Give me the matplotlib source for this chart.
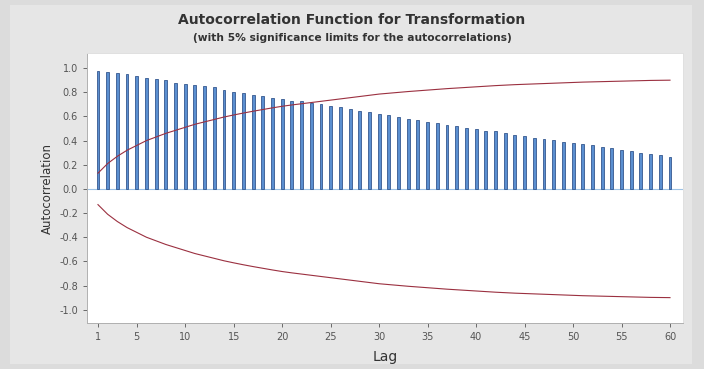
import numpy as np
import matplotlib.pyplot as plt
from matplotlib.patches import Rectangle

lags = np.arange(1, 61)
acf = [0.98, 0.97, 0.96, 0.95, 0.935, 0.92, 0.91, 0.90, 0.88, 0.87,
       0.86, 0.85, 0.84, 0.82, 0.80, 0.795, 0.78, 0.77, 0.755, 0.748,
       0.73, 0.725, 0.71, 0.70, 0.687, 0.678, 0.664, 0.645, 0.636, 0.62,
       0.613, 0.594, 0.58, 0.571, 0.552, 0.544, 0.53, 0.518, 0.504, 0.493,
       0.482, 0.476, 0.462, 0.45, 0.435, 0.42, 0.41, 0.403, 0.39, 0.38,
       0.37, 0.36, 0.347, 0.342, 0.325, 0.314, 0.297, 0.286, 0.277, 0.263]
# 5% significance limit (upper; lower is the mirror)
limit = [0.13, 0.21, 0.27, 0.32, 0.36, 0.40, 0.43, 0.46, 0.485, 0.51,
         0.535, 0.555, 0.575, 0.595, 0.612, 0.628, 0.643, 0.657, 0.671, 0.684,
         0.695, 0.705, 0.715, 0.725, 0.735, 0.745, 0.755, 0.765, 0.775, 0.785,
         0.792, 0.799, 0.806, 0.812, 0.818, 0.824, 0.83, 0.835, 0.84, 0.845,
         0.85, 0.855, 0.859, 0.863, 0.866, 0.869, 0.872, 0.875, 0.878, 0.881,
         0.884, 0.886, 0.888, 0.89, 0.892, 0.894, 0.896, 0.898, 0.899, 0.90]
xticks = [1, 5, 10, 15, 20, 25, 30, 35, 40, 45, 50, 55, 60]
yticks = [-1.0, -0.8, -0.6, -0.4, -0.2, 0.0, 0.2, 0.4, 0.6, 0.8, 1.0]

fig = plt.figure(figsize=(7.04, 3.69), dpi=100, facecolor='#dcdcdc')
fig.patches.append(Rectangle((10 / 704, 5 / 369), 682 / 704, 359 / 369,
                             transform=fig.transFigure, facecolor='#e6e6e6',
                             edgecolor='none', zorder=-10))

ax = fig.add_axes([87 / 704, 46 / 369, 596 / 704, 270 / 369])
ax.set_facecolor('white')

ax.bar(lags, acf, width=0.3, color='#5b8fd0', edgecolor='#35588f',
       linewidth=0.6, zorder=3)
ax.axhline(0, color='#9dc3e6', lw=0.8, zorder=2)
lim = np.array(limit)
ax.plot(lags, lim, color='#9b3040', lw=0.8, zorder=4)
ax.plot(lags, -lim, color='#9b3040', lw=0.8, zorder=4)

ax.set_xlim(-0.13, 61.34)
ax.set_ylim(-1.11, 1.125)
ax.set_xticks(xticks)
ax.set_yticks(yticks)
ax.set_yticklabels([f'{v:.1f}' for v in yticks])
ax.tick_params(labelsize=7, colors='#555555', length=3, width=0.6)

for s in ['top', 'right']:
    ax.spines[s].set_color('#e0e0e0')
for s in ['left', 'bottom']:
    ax.spines[s].set_color('#b0b0b0')
for s in ax.spines.values():
    s.set_linewidth(0.7)

ax.set_xlabel('Lag', fontsize=10, color='#333333', labelpad=6)
ax.set_ylabel('Autocorrelation', fontsize=8.5, color='#333333', labelpad=4)

fig.text(0.5, 1 - 20 / 369, 'Autocorrelation Function for Transformation',
         ha='center', va='center', fontsize=10, fontweight='bold', color='#333333')
fig.text(0.5, 1 - 38 / 369, '(with 5% significance limits for the autocorrelations)',
         ha='center', va='center', fontsize=7.7, fontweight='bold', color='#333333')

fig.savefig('out.png', dpi=100, facecolor=fig.get_facecolor())
